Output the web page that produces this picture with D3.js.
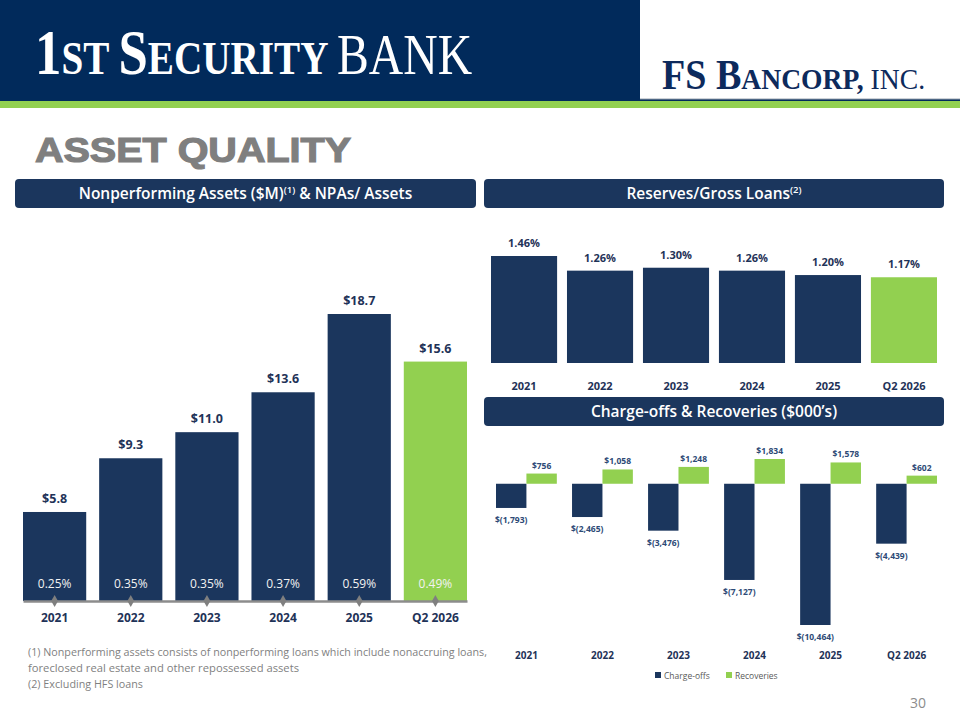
<!DOCTYPE html>
<html>
  <head>
    <meta http-equiv="Content-Type" content="text/html; charset=UTF-8" />
    <title>Asset Quality</title>
    <script src="https://d3js.org/d3.v7.min.js"></script>
    <style>
      body { margin: 0; background: #ffffff; }
      svg { display: block; }
      text { font-family: "Open Sans", "Noto Sans", sans-serif; }
    </style>
  </head>
  <body>
    <div id="chart"></div>
    <script type="text/javascript">
    // values
    var years = ["2021", "2022", "2023", "2024", "2025", "Q2 2026"];
    var npaValues = [5.8, 9.3, 11.0, 13.6, 18.7, 15.6];          // $M
    var npaRatios = [0.25, 0.35, 0.35, 0.37, 0.59, 0.49];        // % of assets
    var reserveRatios = [1.46, 1.26, 1.30, 1.26, 1.20, 1.17];    // % of gross loans
    var chargeOffs = [-1793, -2465, -3476, -7127, -10464, -4439]; // $000s
    var recoveries = [756, 1058, 1248, 1834, 1578, 602];         // $000s
    var legendItems = ["Charge-offs", "Recoveries"];

    var navy = "#1b365d",
        green = "#92d050",
        head = "#012a5b",
        labelNavy = "#1f3358";

    var svg = d3.select("#chart").append("svg")
      .attr("width", 960)
      .attr("height", 720);

    // scale the tspans of a text so the whole line is w pixels wide
    function fitWidth(t, w) {
      var k = w / t.node().getComputedTextLength();
      t.selectAll("tspan").each(function() {
        var s = d3.select(this);
        s.attr("font-size", +s.attr("font-size") * k);
      });
    }

    // ---- header band ----
    svg.append("rect").attr("x", 0).attr("y", 0).attr("width", 960).attr("height", 101).attr("fill", head);
    svg.append("rect").attr("x", 640).attr("y", 0).attr("width", 320).attr("height", 99).attr("fill", "#ffffff");
    svg.append("line").attr("x1", 640).attr("x2", 960).attr("y1", 99).attr("y2", 99)
      .attr("stroke", "#9aa4b0").attr("stroke-width", 1);
    svg.append("rect").attr("x", 0).attr("y", 101).attr("width", 960).attr("height", 7).attr("fill", green);

    var logo = svg.append("text")
      .attr("transform", "translate(35,74) scale(1,1.18)")
      .attr("fill", "#ffffff")
      .style("font-family", "'Liberation Serif', 'DejaVu Serif', serif");
    logo.append("tspan").attr("font-size", 62).attr("font-weight", 700).text("1");
    logo.append("tspan").attr("font-size", 46).attr("font-weight", 700).text("ST ");
    logo.append("tspan").attr("font-size", 62).attr("font-weight", 700).text("S");
    logo.append("tspan").attr("font-size", 46).attr("font-weight", 700).text("ECURITY ");
    logo.append("tspan").attr("font-size", 56).attr("font-weight", 400).text("BANK");
    fitWidth(logo, 437);

    var fs = svg.append("text")
      .attr("transform", "translate(662,89) scale(1,1.1)")
      .attr("fill", "#0d2a5c")
      .style("font-family", "'Liberation Serif', 'DejaVu Serif', serif");
    fs.append("tspan").attr("font-size", 40).attr("font-weight", 700).text("FS B");
    fs.append("tspan").attr("font-size", 29).attr("font-weight", 700).text("ANCORP, ");
    fs.append("tspan").attr("font-size", 29).attr("font-weight", 400).text("INC.");
    fitWidth(fs, 263);

    svg.append("text")
      .attr("x", 35).attr("y", 162)
      .attr("fill", "#7f7f7f")
      .attr("stroke", "#7f7f7f")
      .attr("stroke-width", 1.2)
      .attr("font-size", 35)
      .attr("font-weight", 700)
      .style("font-family", "'Liberation Sans', Arial, sans-serif")
      .attr("textLength", 316).attr("lengthAdjust", "spacingAndGlyphs")
      .text("ASSET QUALITY");

    // ---- section title bars ----
    function titleBar(x, y, w, parts) {
      svg.append("rect").attr("x", x).attr("y", y).attr("width", w).attr("height", 29)
        .attr("rx", 4).attr("fill", navy);
      var t = svg.append("text")
        .attr("x", x + w / 2).attr("y", y + 20)
        .attr("text-anchor", "middle")
        .attr("fill", "#ffffff")
        .attr("font-weight", 600);
      var raised = false;
      parts.forEach(function(p) {
        var s = t.append("tspan").text(p.text);
        if (p.sup) {
          s.attr("font-size", 9.5).attr("dy", -6);
          raised = true;
        } else {
          s.attr("font-size", 15.5);
          if (raised) { s.attr("dy", 6); raised = false; }
        }
      });
    }
    titleBar(15, 179, 461, [{text: "Nonperforming Assets ($M)"}, {text: "(1)", sup: true}, {text: " & NPAs/ Assets"}]);
    titleBar(484, 179, 460, [{text: "Reserves/Gross Loans"}, {text: "(2)", sup: true}]);
    titleBar(484, 397, 460, [{text: "Charge-offs & Recoveries ($000\u2019s)"}]);

    // ---- left chart: nonperforming assets ----
    var x1 = d3.scaleBand().domain(years).range([23, 467]).paddingInner(0.17);
    var y1 = d3.scaleLinear().domain([0, 18.7]).range([601, 314]);
    var left = svg.append("g");

    left.selectAll("rect.npa").data(npaValues).enter().append("rect")
      .attr("class", "npa")
      .attr("x", function(d, i) { return x1(years[i]); })
      .attr("y", function(d) { return y1(d); })
      .attr("width", x1.bandwidth())
      .attr("height", function(d) { return y1(0) - y1(d); })
      .attr("fill", function(d, i) { return i === years.length - 1 ? green : navy; });

    left.selectAll("text.npaVal").data(npaValues).enter().append("text")
      .attr("class", "npaVal")
      .attr("x", function(d, i) { return x1(years[i]) + x1.bandwidth() / 2; })
      .attr("y", function(d) { return y1(d) - 9; })
      .attr("text-anchor", "middle")
      .attr("fill", labelNavy)
      .attr("font-size", 12.5)
      .attr("font-weight", 700)
      .text(function(d) { return d3.format("$.1f")(d); });

    left.selectAll("text.npaPct").data(npaRatios).enter().append("text")
      .attr("class", "npaPct")
      .attr("x", function(d, i) { return x1(years[i]) + x1.bandwidth() / 2; })
      .attr("y", 588)
      .attr("text-anchor", "middle")
      .attr("fill", "#f2f2f2")
      .attr("font-size", 12)
      .text(function(d) { return d3.format(".2f")(d) + "%"; });

    var ax1 = left.append("g")
      .attr("transform", "translate(0,601)")
      .call(d3.axisBottom(x1).tickSize(0).tickSizeOuter(0).tickPadding(12.5));
    ax1.select(".domain").attr("stroke", "#8c8c8c").attr("stroke-width", 2.5);
    ax1.selectAll("text").attr("fill", labelNavy).attr("font-size", 12).attr("font-weight", 700)
      .style("font-family", "'Open Sans', sans-serif");

    left.selectAll("path.dia").data(years).enter().append("path")
      .attr("class", "dia")
      .attr("transform", function(d) { return "translate(" + (x1(d) + x1.bandwidth() / 2) + ",601)"; })
      .attr("d", d3.symbol().type(d3.symbolDiamond).size(40))
      .attr("fill", "#7f7f7f");

    // ---- right top chart: reserves / gross loans ----
    var x2 = d3.scaleBand().domain(years).range([491, 937]).paddingInner(0.13);
    var y2 = d3.scaleLinear().domain([0, 1.46]).range([363, 256]);
    var rt = svg.append("g");

    rt.selectAll("rect.res").data(reserveRatios).enter().append("rect")
      .attr("class", "res")
      .attr("x", function(d, i) { return x2(years[i]); })
      .attr("y", function(d) { return y2(d); })
      .attr("width", x2.bandwidth())
      .attr("height", function(d) { return y2(0) - y2(d); })
      .attr("fill", function(d, i) { return i === years.length - 1 ? green : navy; });

    rt.selectAll("text.resVal").data(reserveRatios).enter().append("text")
      .attr("class", "resVal")
      .attr("x", function(d, i) { return x2(years[i]) + x2.bandwidth() / 2; })
      .attr("y", function(d) { return y2(d) - 9; })
      .attr("text-anchor", "middle")
      .attr("fill", labelNavy)
      .attr("font-size", 11)
      .attr("font-weight", 700)
      .text(function(d) { return d3.format(".2f")(d) + "%"; });

    var ax2 = rt.append("g")
      .attr("transform", "translate(0,363)")
      .call(d3.axisBottom(x2).tickSize(0).tickPadding(19));
    ax2.select(".domain").remove();
    ax2.selectAll("text").attr("fill", labelNavy).attr("font-size", 11).attr("font-weight", 700)
      .style("font-family", "'Open Sans', sans-serif");

    // ---- right bottom chart: charge-offs & recoveries ----
    var x3 = d3.scaleBand().domain(years).range([496, 937]).paddingInner(0.2);
    var xs = d3.scaleBand().domain(legendItems).range([0, x3.bandwidth()]);
    var y3 = d3.scaleLinear().domain([-10464, 1834]).range([625, 459]);
    var rb = svg.append("g");
    var coLabel = function(v) { return "$(" + d3.format(",")(Math.abs(v)) + ")"; };

    rb.selectAll("rect.co").data(chargeOffs).enter().append("rect")
      .attr("class", "co")
      .attr("x", function(d, i) { return x3(years[i]) + xs("Charge-offs"); })
      .attr("y", y3(0))
      .attr("width", xs.bandwidth())
      .attr("height", function(d) { return y3(d) - y3(0); })
      .attr("fill", navy);

    rb.selectAll("rect.rec").data(recoveries).enter().append("rect")
      .attr("class", "rec")
      .attr("x", function(d, i) { return x3(years[i]) + xs("Recoveries"); })
      .attr("y", function(d) { return y3(d); })
      .attr("width", xs.bandwidth())
      .attr("height", function(d) { return y3(0) - y3(d); })
      .attr("fill", green);

    rb.selectAll("text.coVal").data(chargeOffs).enter().append("text")
      .attr("class", "coVal")
      .attr("x", function(d, i) { return x3(years[i]) + xs("Charge-offs") + xs.bandwidth() / 2; })
      .attr("y", function(d) { return y3(d) + 15; })
      .attr("text-anchor", "middle")
      .attr("fill", "#2d4a76")
      .attr("font-size", 8.5)
      .attr("font-weight", 700)
      .text(coLabel);

    rb.selectAll("text.recVal").data(recoveries).enter().append("text")
      .attr("class", "recVal")
      .attr("x", function(d, i) { return x3(years[i]) + xs("Recoveries") + xs.bandwidth() / 2; })
      .attr("y", function(d) { return y3(d) - 5; })
      .attr("text-anchor", "middle")
      .attr("fill", "#2d4a76")
      .attr("font-size", 8.5)
      .attr("font-weight", 700)
      .text(function(d) { return d3.format("$,")(d); });

    var ax3 = rb.append("g")
      .attr("transform", "translate(0,645)")
      .call(d3.axisBottom(x3).tickSize(0).tickPadding(7));
    ax3.select(".domain").remove();
    ax3.selectAll("text").attr("fill", labelNavy).attr("font-size", 10).attr("font-weight", 700)
      .style("font-family", "'Open Sans', sans-serif");

    var legendX = [655, 726];
    var lg = rb.selectAll("g.lg").data(legendItems).enter().append("g")
      .attr("class", "lg")
      .attr("transform", function(d, i) { return "translate(" + legendX[i] + ",675)"; });
    lg.append("rect").attr("x", 0).attr("y", -3).attr("width", 6).attr("height", 6)
      .attr("fill", function(d, i) { return i === 0 ? navy : green; });
    lg.append("text").attr("x", 9).attr("y", 3.5)
      .attr("fill", "#595959").attr("font-size", 8.5)
      .text(function(d) { return d; });

    // ---- footnotes ----
    var notes = [
      "(1) Nonperforming assets consists of nonperforming loans which include nonaccruing loans,",
      "foreclosed real estate and other repossessed assets",
      "(2) Excluding HFS loans"
    ];
    var noteLen = [459, 271, 115];
    svg.selectAll("text.note").data(notes).enter().append("text")
      .attr("class", "note")
      .attr("x", 28)
      .attr("y", function(d, i) { return 656 + i * 16; })
      .attr("fill", "#7f7f7f")
      .attr("font-size", 10.5)
      .attr("textLength", function(d, i) { return noteLen[i]; })
      .attr("lengthAdjust", "spacingAndGlyphs")
      .text(function(d) { return d; });

    svg.append("text")
      .attr("x", 926).attr("y", 708)
      .attr("text-anchor", "end")
      .attr("fill", "#8c8c8c")
      .attr("font-size", 14)
      .text("30");
    </script>
  </body>
</html>
